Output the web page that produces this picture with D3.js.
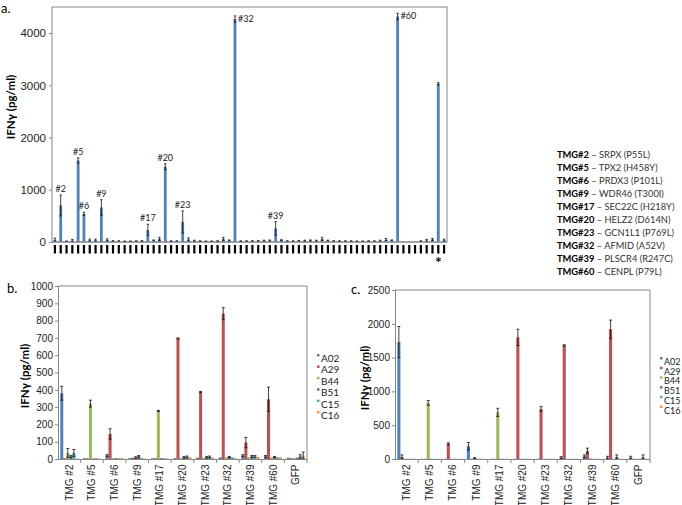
<!DOCTYPE html>
<html>
<head>
<meta charset="utf-8">
<script src="https://cdn.jsdelivr.net/npm/d3@7"></script>
<style>
  body { margin: 0; background: #fff; }
  svg { font-family: Lato, "Open Sans", sans-serif; }
  .border { fill: none; stroke: #868686; stroke-width: 1; }
  .axis path, .axis line { stroke: #868686; }
  .axis text { fill: #222; }
</style>
</head>
<body>
<div id="chart"></div>
<script>
// panel a: 68 screened minigenes, only the index is kept (labels are blacked out)
const aCats = d3.range(1, 69);
const aValues = [
  45, 700, 15, 30, 1560, 540, 35, 35, 660, 40,
  20, 18, 15, 15, 18, 20, 230, 30, 60, 1440,
  18, 18, 385, 50, 25, 18, 15, 15, 18, 60,
  30, 4270, 18, 18, 20, 22, 25, 28, 260, 35,
  18, 18, 22, 25, 30, 25, 60, 25, 20, 18,
  18, 18, 15, 15, 18, 18, 25, 45, 30, 4320,
  5, 5, 5, 18, 30, 50, 3030, 35,
];
const aErrors = [
  30, 200, 5, 20, 50, 30, 20, 20, 150, 20,
  5, 5, 5, 5, 5, 5, 110, 10, 30, 60,
  5, 5, 210, 30, 10, 5, 5, 5, 5, 30,
  10, 60, 5, 5, 5, 5, 10, 10, 130, 10,
  5, 5, 5, 10, 10, 10, 30, 10, 5, 5,
  5, 5, 5, 5, 5, 5, 10, 20, 10, 60,
  0, 0, 0, 5, 20, 20, 20, 20,
];
const aTicks = [0, 1000, 2000, 3000, 4000];
const aLabels = [
  { cat: 2, text: "#2" }, { cat: 5, text: "#5" }, { cat: 6, text: "#6" },
  { cat: 9, text: "#9" }, { cat: 17, text: "#17" }, { cat: 20, text: "#20" },
  { cat: 23, text: "#23" }, { cat: 39, text: "#39" },
];
const aSideLabels = [{ cat: 32, text: "#32" }, { cat: 60, text: "#60" }];
const aStar = 67;

const geneNames = ["TMG#2", "TMG#5", "TMG#6", "TMG#9", "TMG#17", "TMG#20", "TMG#23", "TMG#32", "TMG#39", "TMG#60"];
const geneDesc = [
  "SRPX (P55L)", "TPX2 (H458Y)", "PRDX3 (P101L)", "WDR46 (T300I)", "SEC22C (H218Y)",
  "HELZ2 (D614N)", "GCN1L1 (P769L)", "AFMID (A52V)", "PLSCR4 (R247C)", "CENPL (P79L)",
];

// panels b and c: HLA alleles per minigene
const tmgCats = ["TMG #2", "TMG #5", "TMG #6", "TMG #9", "TMG #17", "TMG #20", "TMG #23", "TMG #32", "TMG #39", "TMG #60", "GFP"];
const alleles = ["A02", "A29", "B44", "B51", "C15", "C16"];
const alleleColors = ["#4f81bd", "#c0504d", "#9bbb59", "#8064a2", "#4bacc6", "#f79646"];

const bA02 = [380, 5, 20, 5, 4, 5, 8, 10, 20, 15, 8];
const bA29 = [5, 4, 145, 8, 5, 697, 387, 840, 95, 345, 5];
const bB44 = [35, 320, 5, 8, 278, 5, 8, 10, 10, 10, 5];
const bB51 = [15, 3, 5, 15, 5, 10, 10, 12, 15, 12, 8];
const bC15 = [35, 5, 5, 5, 5, 12, 12, 10, 15, 10, 15];
const bC16 = [3, 3, 5, 3, 3, 10, 8, 5, 12, 10, 20];
const bA02Err = [40, 0, 5, 0, 0, 0, 0, 0, 5, 5, 0];
const bA29Err = [0, 0, 30, 0, 0, 3, 3, 35, 30, 70, 0];
const bB44Err = [25, 20, 0, 5, 3, 0, 0, 0, 0, 0, 0];
const bB51Err = [5, 0, 0, 5, 0, 5, 5, 3, 5, 3, 0];
const bC15Err = [20, 0, 0, 0, 0, 5, 5, 0, 5, 0, 10];
const bC16Err = [0, 0, 0, 0, 0, 0, 0, 0, 0, 0, 20];
const bTicks = [0, 100, 200, 300, 400, 500, 600, 700, 800, 900, 1000];

const cA02 = [1730, 3, 3, 190, 3, 3, 3, 20, 40, 20, 20];
const cA29 = [30, 3, 225, 3, 3, 1800, 740, 1680, 120, 1920, 3];
const cB44 = [3, 830, 3, 15, 690, 3, 3, 3, 10, 3, 3];
const cB51 = [3, 3, 3, 3, 3, 3, 3, 3, 3, 30, 3];
const cC15 = [3, 3, 3, 3, 3, 3, 3, 3, 3, 3, 30];
const cC16 = [3, 3, 3, 3, 3, 3, 3, 3, 3, 3, 3];
const cA02Err = [230, 0, 0, 55, 0, 0, 0, 15, 20, 20, 20];
const cA29Err = [30, 0, 15, 0, 0, 120, 35, 10, 40, 135, 0];
const cB44Err = [0, 35, 0, 5, 60, 0, 0, 0, 0, 0, 0];
const cB51Err = [0, 0, 0, 0, 0, 0, 0, 0, 0, 30, 0];
const cC15Err = [0, 0, 0, 0, 0, 0, 0, 0, 0, 0, 30];
const cC16Err = [0, 0, 0, 0, 0, 0, 0, 0, 0, 0, 0];
const cTicks = [0, 500, 1000, 1500, 2000, 2500];

const svg = d3.select("#chart").append("svg").attr("width", 682).attr("height", 505);

const drawErrors = ({ g, rows, cap }) => {
  const e = g.append("g").attr("stroke", "#111").attr("stroke-width", 0.8);
  rows.filter((r) => r.err > 0).forEach((r) => {
    e.append("line").attr("x1", r.x).attr("x2", r.x).attr("y1", r.y0).attr("y2", r.y1);
    e.append("line").attr("x1", r.x - cap).attr("x2", r.x + cap).attr("y1", r.y1).attr("y2", r.y1);
    e.append("line").attr("x1", r.x - cap).attr("x2", r.x + cap).attr("y1", r.y2).attr("y2", r.y2);
  });
};

const drawYTitle = ({ x, y, size }) => {
  svg.append("text")
    .attr("transform", `translate(${x},${y}) rotate(-90)`)
    .attr("text-anchor", "middle")
    .attr("font-size", size)
    .attr("font-weight", "bold")
    .text("IFNγ (pg/ml)");
};

const drawPanelA = () => {
  const left = 52, right = 447, top = 7, bottom = 242;
  const xScale = d3.scaleBand().domain(aCats).range([left, right]);
  const yScale = d3.scaleLinear().domain([0, 4500]).range([bottom, top]);
  const g = svg.append("g");
  g.append("rect").attr("class", "border")
    .attr("x", left).attr("y", top).attr("width", right - left).attr("height", bottom - top);

  g.append("g").attr("class", "axis")
    .attr("transform", `translate(${left},0)`)
    .call(d3.axisLeft(yScale).tickValues(aTicks).tickFormat(d3.format("d")).tickSize(3).tickPadding(3))
    .call((ax) => ax.select(".domain").remove())
    .selectAll("text").attr("font-size", 11.5);

  const cx = (c) => xScale(c) + xScale.bandwidth() / 2;
  g.append("g").selectAll("rect").data(aCats).join("rect")
    .attr("x", (c) => cx(c) - 1.4)
    .attr("width", 2.8)
    .attr("y", (c, i) => yScale(aValues[i]))
    .attr("height", (c, i) => bottom - yScale(aValues[i]))
    .attr("fill", "#4f81bd");

  drawErrors({
    g,
    cap: 1.2,
    rows: aCats.map((c, i) => ({
      x: cx(c), err: aErrors[i],
      y0: yScale(Math.max(0, aValues[i] - aErrors[i])),
      y1: yScale(aValues[i] + aErrors[i]),
      y2: yScale(Math.max(0, aValues[i] - aErrors[i])),
    })),
  });

  // blacked-out category labels
  g.append("g").selectAll("rect").data(aCats).join("rect")
    .attr("x", (c) => cx(c) - 1.1).attr("width", 2.2)
    .attr("y", bottom + 3).attr("height", 8.5)
    .attr("fill", "#000");
  g.append("line").attr("x1", left).attr("x2", right).attr("y1", bottom).attr("y2", bottom)
    .attr("stroke", "#868686");

  g.append("g").selectAll("text").data(aLabels).join("text")
    .attr("x", (d) => cx(d.cat))
    .attr("y", (d) => yScale(aValues[d.cat - 1] + aErrors[d.cat - 1]) - 3)
    .attr("text-anchor", "middle").attr("font-size", 9).attr("fill", "#222")
    .text((d) => d.text);
  g.append("g").selectAll("text").data(aSideLabels).join("text")
    .attr("x", (d) => cx(d.cat) + 3)
    .attr("y", (d) => yScale(aValues[d.cat - 1]) + 3)
    .attr("font-size", 9).attr("fill", "#222")
    .text((d) => d.text);
  g.append("text").attr("x", cx(aStar)).attr("y", bottom + 26)
    .attr("text-anchor", "middle").attr("font-size", 16).attr("font-weight", "bold")
    .text("*");

  drawYTitle({ x: 15, y: 107, size: 11.5 });
  svg.append("text").attr("x", 1).attr("y", 13).attr("font-size", 13).text("a.");
};

const drawLegendText = () => {
  const lg = svg.append("g").attr("font-size", 9.3);
  geneNames.forEach((name, i) => {
    const t = lg.append("text").attr("x", 557).attr("y", 158 + i * 13);
    t.append("tspan").attr("font-weight", "bold").attr("fill", "#000").text(name);
    t.append("tspan").attr("fill", "#333").text(" – " + geneDesc[i]);
  });
};

const drawGrouped = ({ left, right, top, bottom, max, ticks, series, errors, legend, tag, title }) => {
  const xScale = d3.scaleBand().domain(tmgCats).range([left, right]);
  const bw = xScale.bandwidth();
  const xInner = d3.scaleBand().domain(alleles).range([bw * 0.1, bw * 0.9]);
  const yScale = d3.scaleLinear().domain([0, max]).range([bottom, top]);
  const g = svg.append("g");

  g.append("path").attr("class", "border")
    .attr("d", `M${left},${top}H${right}V${bottom}`);

  g.append("g").attr("class", "axis")
    .attr("transform", `translate(${left},0)`)
    .call(d3.axisLeft(yScale).tickValues(ticks).tickFormat(d3.format("d")).tickSize(3).tickPadding(2))
    .selectAll("text").attr("font-size", 10);

  alleles.forEach((a, s) => {
    g.append("g").selectAll("rect").data(tmgCats).join("rect")
      .attr("x", (c) => xScale(c) + xInner(a))
      .attr("width", xInner.bandwidth())
      .attr("y", (c, i) => yScale(series[s][i]))
      .attr("height", (c, i) => bottom - yScale(series[s][i]))
      .attr("fill", alleleColors[s]);
  });
  alleles.forEach((a, s) => {
    drawErrors({
      g,
      cap: 1.5,
      rows: tmgCats.map((c, i) => {
        const v = series[s][i], e = errors[s][i];
        return {
          x: xScale(c) + xInner(a) + xInner.bandwidth() / 2, err: e,
          y0: yScale(Math.max(0, v - e)), y1: yScale(v + e), y2: yScale(Math.max(0, v - e)),
        };
      }),
    });
  });

  g.append("g").attr("class", "axis")
    .attr("transform", `translate(0,${bottom})`)
    .call(d3.axisBottom(xScale).tickSize(0).tickPadding(6))
    .call((ax) => ax.selectAll(".tick text")
      .attr("font-size", 10)
      .attr("transform", "rotate(-90)")
      .attr("text-anchor", "end")
      .attr("dx", "-0.55em").attr("dy", "0.35em")
      .attr("x", 0).attr("y", 0))
    .call((ax) => ax.selectAll(".tick").append("line")
      .attr("x1", bw / 2).attr("x2", bw / 2).attr("y1", 0).attr("y2", 4));

  const lg = svg.append("g").attr("font-size", legend.size);
  alleles.forEach((a, s) => {
    lg.append("rect").attr("x", legend.x).attr("y", legend.y + s * legend.step - 5)
      .attr("width", 2.5).attr("height", 2.5).attr("fill", alleleColors[s]);
    lg.append("text").attr("x", legend.x + 4).attr("y", legend.y + s * legend.step + 3)
      .attr("fill", "#222").text(a);
  });

  drawYTitle(title);
  svg.append("text").attr("x", tag.x).attr("y", tag.y).attr("font-size", 13).text(tag.text);
};

drawPanelA();
drawLegendText();
drawGrouped({
  left: 58, right: 307, top: 286, bottom: 459, max: 1000, ticks: bTicks,
  series: [bA02, bA29, bB44, bB51, bC15, bC16],
  errors: [bA02Err, bA29Err, bB44Err, bB51Err, bC15Err, bC16Err],
  legend: { x: 317, y: 359, step: 11.4, size: 10 },
  tag: { x: 7, y: 293, text: "b." },
  title: { x: 29, y: 376, size: 11.5 },
});
drawGrouped({
  left: 395, right: 650, top: 290, bottom: 459, max: 2500, ticks: cTicks,
  series: [cA02, cA29, cB44, cB51, cC15, cC16],
  errors: [cA02Err, cA29Err, cB44Err, cB51Err, cC15Err, cC16Err],
  legend: { x: 660, y: 362, step: 9.7, size: 9 },
  tag: { x: 351, y: 294, text: "c." },
  title: { x: 369, y: 378, size: 11.5 },
});
</script>
</body>
</html>
